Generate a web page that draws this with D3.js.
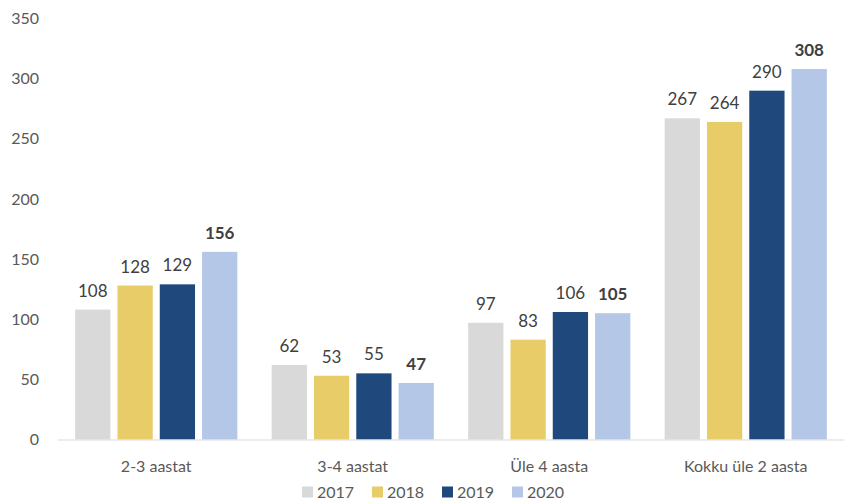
<!DOCTYPE html>
<html>
<head>
<meta charset="utf-8">
<script src="https://cdn.jsdelivr.net/npm/d3@7"></script>
<style>
  body { margin: 0; background: #fff; }
  svg text { font-family: Lato, "Open Sans", sans-serif; }
</style>
</head>
<body>
<div id="chart"></div>
<script>
const width = 847;
const height = 504;
const margin = { top: 18.5, right: 3, bottom: 64, left: 58 };

const categories = ["2-3 aastat", "3-4 aastat", "Üle 4 aasta", "Kokku üle 2 aasta"];
const years = ["2017", "2018", "2019", "2020"];
const colors = ["#d9d9d9", "#e8cc67", "#1f497d", "#b4c7e7"];
const values2017 = [108, 62, 97, 267];
const values2018 = [128, 53, 83, 264];
const values2019 = [129, 55, 106, 290];
const values2020 = [156, 47, 105, 308];
const yTicks = [0, 50, 100, 150, 200, 250, 300, 350];

const series = [values2017, values2018, values2019, values2020];

const svg = d3
  .select("#chart")
  .append("svg")
  .attr("width", width)
  .attr("height", height);

const x0 = d3
  .scaleBand()
  .domain(categories)
  .range([margin.left, width - margin.right])
  .paddingInner(0.139)
  .paddingOuter(0.0695);

const x1 = d3
  .scaleBand()
  .domain(years)
  .range([0, x0.bandwidth()])
  .paddingInner(0.166)
  .paddingOuter(0.083);

const y = d3
  .scaleLinear()
  .domain([0, 350])
  .range([height - margin.bottom - 0.5, margin.top]);

const color = d3.scaleOrdinal().domain(years).range(colors);

// y tick labels (no axis line, no gridlines)
svg
  .append("g")
  .selectAll("text")
  .data(yTicks)
  .enter()
  .append("text")
  .attr("x", 39)
  .attr("y", (d) => y(d))
  .attr("dy", "0.35em")
  .attr("text-anchor", "end")
  .attr("font-size", "16px")
  .attr("fill", "#595959")
  .text((d) => d);

// bars
const rows = categories.map((c, i) => ({
  category: c,
  values: years.map((yr, j) => ({ year: yr, value: series[j][i], bold: j === 3 }))
}));

const groups = svg
  .append("g")
  .selectAll("g")
  .data(rows)
  .enter()
  .append("g")
  .attr("transform", (d) => `translate(${x0(d.category)},0)`);

groups
  .selectAll("rect")
  .data((d) => d.values)
  .enter()
  .append("rect")
  .attr("x", (d) => x1(d.year))
  .attr("y", (d) => y(d.value))
  .attr("width", x1.bandwidth())
  .attr("height", (d) => y(0) - y(d.value))
  .attr("fill", (d) => color(d.year));

groups
  .selectAll("text")
  .data((d) => d.values)
  .enter()
  .append("text")
  .attr("x", (d) => x1(d.year) + x1.bandwidth() / 2)
  .attr("y", (d) => y(d.value) - 13)
  .attr("text-anchor", "middle")
  .attr("font-size", "17px")
  .attr("font-weight", (d) => (d.bold ? "bold" : "normal"))
  .attr("fill", "#404040")
  .text((d) => d.value);

// baseline
svg
  .append("line")
  .attr("x1", margin.left)
  .attr("x2", width - margin.right)
  .attr("y1", y(0) + 0.5)
  .attr("y2", y(0) + 0.5)
  .attr("stroke", "#d9d9d9")
  .attr("stroke-width", 1);

// category labels
svg
  .append("g")
  .selectAll("text")
  .data(categories)
  .enter()
  .append("text")
  .attr("x", (d) => x0(d) + x0.bandwidth() / 2)
  .attr("y", 466)
  .attr("dy", "0.35em")
  .attr("text-anchor", "middle")
  .attr("font-size", "16px")
  .attr("fill", "#595959")
  .text((d) => d);

// legend
const legend = svg
  .append("g")
  .attr("transform", "translate(302,492)");

const item = legend
  .selectAll("g")
  .data(years)
  .enter()
  .append("g")
  .attr("transform", (d, i) => `translate(${i * 70},0)`);

item
  .append("rect")
  .attr("x", 0)
  .attr("y", -5.5)
  .attr("width", 11)
  .attr("height", 11)
  .attr("fill", (d) => color(d));

item
  .append("text")
  .attr("x", 15)
  .attr("y", 0)
  .attr("dy", "0.35em")
  .attr("font-size", "16px")
  .attr("fill", "#595959")
  .text((d) => d);
</script>
</body>
</html>
